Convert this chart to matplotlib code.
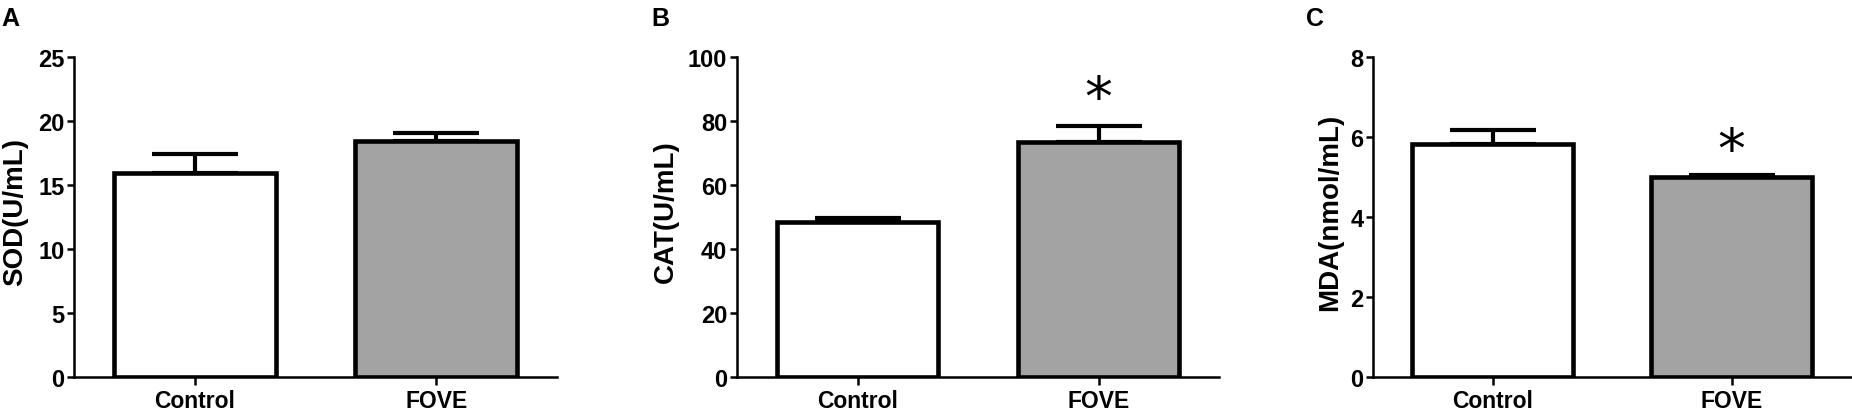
import matplotlib
matplotlib.use("Agg")
import matplotlib.pyplot as plt

plt.rcParams['font.family'] = ['Liberation Sans', 'DejaVu Sans']
plt.rcParams['font.weight'] = 'bold'

groups = ["Control", "FOVE"]
sod_mean = [15.9, 18.4]
sod_err = [1.5, 0.7]
cat_mean = [48.3, 73.4]
cat_err = [1.3, 4.9]
mda_mean = [5.82, 4.99]
mda_err = [0.36, 0.06]

panels = [
    dict(letter="A", ylabel="SOD(U/mL)", mean=sod_mean, err=sod_err,
         ymax=25, yticks=[0, 5, 10, 15, 20, 25], star=None),
    dict(letter="B", ylabel="CAT(U/mL)", mean=cat_mean, err=cat_err,
         ymax=100, yticks=[0, 20, 40, 60, 80, 100], star=86.5),
    dict(letter="C", ylabel="MDA(nmol/mL)", mean=mda_mean, err=mda_err,
         ymax=8, yticks=[0, 2, 4, 6, 8], star=5.62),
]

W, H = 1852, 410
fig = plt.figure(figsize=(W / 100, H / 100), dpi=100)

ax_left_px = [74, 737, 1373]
ax_width_px = [483, 482, 478]
letter_x_px = [1, 651, 1306]
ylabel_x_px = [15, 666, 1330]
bottom = (H - 378) / H
height = (378 - 58) / H

colors = ["white", "#a2a3a2"]

for p, lx, wx, letx, ylx in zip(panels, ax_left_px, ax_width_px, letter_x_px, ylabel_x_px):
    ax = fig.add_axes([lx / W, bottom, wx / W, height])
    x = [0, 1]
    ax.bar(x, p["mean"], width=0.67, color=colors, edgecolor="black",
           linewidth=3.3, zorder=2)
    ax.errorbar(x, p["mean"], yerr=[[0, 0], p["err"]], fmt="none",
                ecolor="black", elinewidth=3.0, capsize=31, capthick=3.0, zorder=1)
    if p["star"] is not None:
        ax.text(1, p["star"], "*", ha="center", va="center", fontsize=40,
                fontweight="normal", family="DejaVu Sans")
    ax.set_xlim(-0.5, 1.5)
    ax.set_ylim(0, p["ymax"])
    ax.set_yticks(p["yticks"])
    ax.set_xticks(x)
    ax.set_xticklabels(groups, fontsize=16.5, fontweight="bold")
    for lab in ax.get_yticklabels():
        lab.set_fontsize(17)
        lab.set_fontweight("bold")
    for s in ["top", "right"]:
        ax.spines[s].set_visible(False)
    for s in ["left", "bottom"]:
        ax.spines[s].set_linewidth(1.8)
    ax.tick_params(axis="y", direction="out", length=5, width=1.8, pad=2)
    ax.tick_params(axis="x", direction="out", length=6, width=1.8, pad=3)
    fig.text(ylx / W, (H - 212) / H, p["ylabel"], rotation=90, ha="center",
             va="center", fontsize=20, fontweight="bold")
    fig.text(letx / W, (H - 7) / H, p["letter"], ha="left", va="top",
             fontsize=18, fontweight="bold")

fig.savefig("out.png", dpi=100)
